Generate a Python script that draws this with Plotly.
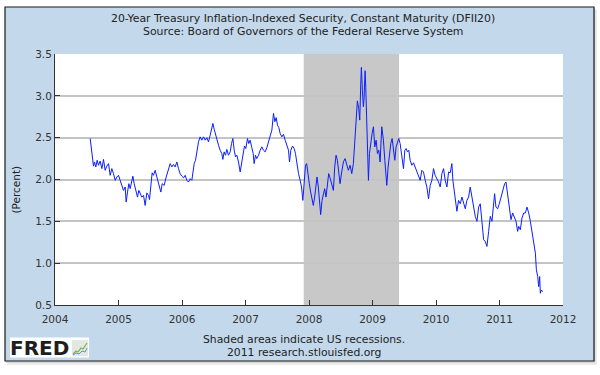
import plotly.graph_objects as go

# ---- data ----
years = [2004.554, 2004.570, 2004.585, 2004.606, 2004.622, 2004.643, 2004.664, 2004.685, 2004.711, 2004.738,
         2004.764, 2004.790, 2004.816, 2004.843, 2004.869, 2004.895, 2004.921, 2004.948, 2004.974, 2005.000,
         2005.026, 2005.052, 2005.079, 2005.105, 2005.121, 2005.142, 2005.163, 2005.184, 2005.205, 2005.226,
         2005.247, 2005.268, 2005.299, 2005.320, 2005.341, 2005.367, 2005.394, 2005.420, 2005.446, 2005.472,
         2005.488, 2005.509, 2005.530, 2005.551, 2005.577, 2005.604, 2005.630, 2005.667, 2005.688, 2005.719,
         2005.751, 2005.772, 2005.793, 2005.814, 2005.840, 2005.866, 2005.892, 2005.919, 2005.945, 2005.971,
         2005.997, 2006.024, 2006.050, 2006.076, 2006.102, 2006.129, 2006.155, 2006.171, 2006.192, 2006.213,
         2006.234, 2006.260, 2006.286, 2006.312, 2006.339, 2006.365, 2006.391, 2006.417, 2006.444, 2006.470,
         2006.486, 2006.507, 2006.528, 2006.549, 2006.575, 2006.601, 2006.627, 2006.643, 2006.664, 2006.685,
         2006.706, 2006.732, 2006.759, 2006.780, 2006.801, 2006.822, 2006.843, 2006.864, 2006.890, 2006.916,
         2006.942, 2006.963, 2006.984, 2007.005, 2007.031, 2007.052, 2007.073, 2007.100, 2007.121, 2007.136,
         2007.157, 2007.178, 2007.205, 2007.231, 2007.257, 2007.283, 2007.310, 2007.336, 2007.362, 2007.388,
         2007.415, 2007.441, 2007.462, 2007.483, 2007.504, 2007.525, 2007.546, 2007.572, 2007.598, 2007.625,
         2007.651, 2007.677, 2007.693, 2007.714, 2007.740, 2007.766, 2007.787, 2007.808, 2007.835, 2007.861,
         2007.882, 2007.903, 2007.924, 2007.945, 2007.963, 2007.984, 2008.005, 2008.026, 2008.047, 2008.068,
         2008.089, 2008.110, 2008.126, 2008.147, 2008.168, 2008.184, 2008.205, 2008.226, 2008.247, 2008.268,
         2008.289, 2008.310, 2008.331, 2008.358, 2008.384, 2008.405, 2008.426, 2008.447, 2008.468, 2008.489,
         2008.515, 2008.542, 2008.568, 2008.594, 2008.620, 2008.647, 2008.673, 2008.699, 2008.720, 2008.741,
         2008.762, 2008.783, 2008.799, 2008.815, 2008.825, 2008.841, 2008.857, 2008.868, 2008.883, 2008.894,
         2008.904, 2008.920, 2008.936, 2008.952, 2008.973, 2008.994, 2009.015, 2009.036, 2009.057, 2009.078,
         2009.099, 2009.120, 2009.146, 2009.172, 2009.194, 2009.209, 2009.225, 2009.246, 2009.267, 2009.288,
         2009.309, 2009.330, 2009.351, 2009.372, 2009.393, 2009.414, 2009.435, 2009.462, 2009.488, 2009.509,
         2009.530, 2009.551, 2009.572, 2009.593, 2009.620, 2009.646, 2009.672, 2009.698, 2009.724, 2009.751,
         2009.777, 2009.803, 2009.830, 2009.856, 2009.882, 2009.909, 2009.935, 2009.961, 2009.987, 2010.014,
         2010.040, 2010.066, 2010.093, 2010.119, 2010.145, 2010.172, 2010.198, 2010.224, 2010.250, 2010.266,
         2010.287, 2010.313, 2010.329, 2010.355, 2010.382, 2010.408, 2010.434, 2010.461, 2010.487, 2010.513,
         2010.539, 2010.566, 2010.592, 2010.618, 2010.645, 2010.671, 2010.697, 2010.723, 2010.750, 2010.776,
         2010.802, 2010.829, 2010.855, 2010.881, 2010.907, 2010.923, 2010.944, 2010.971, 2010.997, 2011.023,
         2011.055, 2011.081, 2011.102, 2011.118, 2011.134, 2011.155, 2011.181, 2011.207, 2011.233, 2011.260,
         2011.286, 2011.302, 2011.328, 2011.354, 2011.381, 2011.407, 2011.433, 2011.460, 2011.486, 2011.512,
         2011.538, 2011.565, 2011.581, 2011.602, 2011.617, 2011.633, 2011.643, 2011.659, 2011.680]

percent = [2.49, 2.39, 2.25, 2.16, 2.21, 2.15, 2.23, 2.17, 2.22, 2.13,
           2.24, 2.11, 2.16, 2.19, 2.05, 2.13, 2.07, 1.99, 2.03, 2.05,
           1.99, 1.93, 1.87, 1.91, 1.73, 1.85, 1.95, 1.89, 1.99, 2.04,
           1.95, 1.89, 1.79, 1.87, 1.83, 1.79, 1.81, 1.69, 1.84, 1.81,
           1.76, 1.95, 2.08, 2.05, 2.11, 2.03, 1.95, 1.85, 1.95, 1.93,
           2.03, 2.09, 2.13, 2.19, 2.15, 2.18, 2.15, 2.21, 2.13, 2.07,
           2.04, 2.02, 2.05, 1.99, 1.97, 2.01, 1.99, 2.08, 2.19, 2.23,
           2.35, 2.45, 2.51, 2.47, 2.51, 2.47, 2.50, 2.45, 2.53, 2.61,
           2.67, 2.60, 2.53, 2.47, 2.41, 2.35, 2.31, 2.24, 2.33, 2.29,
           2.36, 2.29, 2.33, 2.43, 2.49, 2.35, 2.27, 2.29, 2.21, 2.09,
           2.21, 2.31, 2.40, 2.37, 2.49, 2.43, 2.47, 2.38, 2.31, 2.19,
           2.29, 2.25, 2.29, 2.35, 2.39, 2.35, 2.33, 2.38, 2.45, 2.53,
           2.59, 2.79, 2.69, 2.74, 2.65, 2.62, 2.55, 2.51, 2.54, 2.47,
           2.42, 2.35, 2.21, 2.35, 2.40, 2.37, 2.31, 2.17, 2.07, 1.99,
           1.91, 1.75, 1.99, 2.17, 2.19, 2.03, 1.95, 1.85, 1.75, 1.69,
           1.79, 1.91, 2.03, 1.91, 1.71, 1.58, 1.75, 1.83, 1.89, 1.79,
           1.95, 2.07, 2.02, 1.95, 1.87, 2.15, 2.29, 2.23, 2.09, 1.95,
           2.09, 2.21, 2.25, 2.17, 2.11, 2.17, 2.07, 2.19, 2.47, 2.79,
           2.94, 2.85, 2.71, 3.14, 3.34, 3.06, 2.87, 2.98, 3.30, 3.10,
           2.79, 2.35, 1.99, 2.31, 2.47, 2.55, 2.63, 2.39, 2.47, 2.31,
           2.35, 2.21, 2.63, 2.47, 2.23, 2.07, 1.93, 2.15, 2.31, 2.43,
           2.49, 2.31, 2.23, 2.39, 2.45, 2.49, 2.43, 2.27, 2.13, 2.35,
           2.37, 2.33, 2.35, 2.23, 2.17, 2.20, 2.15, 2.09, 2.03, 1.99,
           2.11, 2.09, 1.99, 1.91, 1.77, 1.93, 1.99, 2.13, 2.05, 2.01,
           1.97, 1.91, 2.07, 2.13, 1.99, 1.91, 2.09, 2.08, 2.19, 1.99,
           1.87, 1.71, 1.62, 1.75, 1.71, 1.79, 1.71, 1.65, 1.75, 1.79,
           1.91, 1.79, 1.67, 1.56, 1.50, 1.67, 1.71, 1.44, 1.28, 1.26,
           1.20, 1.38, 1.56, 1.50, 1.67, 1.83, 1.67, 1.65, 1.71, 1.79,
           1.87, 1.95, 1.97, 1.87, 1.75, 1.65, 1.52, 1.60, 1.56, 1.50,
           1.38, 1.44, 1.40, 1.54, 1.60, 1.60, 1.67, 1.60, 1.50, 1.36,
           1.28, 1.12, 0.92, 0.84, 0.72, 0.84, 0.64, 0.68, 0.66]

x_ticks = [2004, 2005, 2006, 2007, 2008, 2009, 2010, 2011, 2012]
y_ticks = [0.5, 1.0, 1.5, 2.0, 2.5, 3.0, 3.5]
recession = [2007.917, 2009.417]   # Dec 2007 - Jun 2009

title_lines = ["20-Year Treasury Inflation-Indexed Security, Constant Maturity (DFII20)",
               "Source: Board of Governors of the Federal Reserve System"]
footer_lines = ["Shaded areas indicate US recessions.", "2011 research.stlouisfed.org"]

# ---- layout geometry (pixels) ----
W, H = 600, 375
PL, PR, PT, PB = 55, 563, 54, 305


def px(x):
    return (x - PL) / (PR - PL)


def py(y):
    return (PB - y) / (PB - PT)


FONT = "DejaVu Sans"
PANEL = "#C3D8EB"

fig = go.Figure()
fig.add_trace(go.Scatter(x=years, y=percent, mode="lines",
                         line=dict(color="#0a1eff", width=1), hoverinfo="skip"))

shapes = []
# shadow
shapes.append(dict(type="rect", xref="paper", yref="paper", layer="below",
                   x0=px(7), x1=px(597), y0=py(365), y1=py(10),
                   fillcolor="#ececec", line=dict(width=0)))
shapes.append(dict(type="rect", xref="paper", yref="paper", layer="below",
                   x0=px(6), x1=px(595.5), y0=py(363), y1=py(8.5),
                   fillcolor="#d6d6d6", line=dict(width=0)))
# blue panel
shapes.append(dict(type="rect", xref="paper", yref="paper", layer="below",
                   x0=px(5), x1=px(594), y0=py(361), y1=py(7),
                   fillcolor=PANEL, line=dict(color="#1a1a1a", width=1.2)))
# plot area
shapes.append(dict(type="rect", xref="paper", yref="paper", layer="below",
                   x0=0, x1=1, y0=0, y1=1, fillcolor="white", line=dict(width=0)))
# recession
shapes.append(dict(type="rect", xref="x", yref="paper", layer="below",
                   x0=recession[0], x1=recession[1], y0=0, y1=1,
                   fillcolor="#C8C8C8", line=dict(width=0)))
# FRED logo box
shapes.append(dict(type="rect", xref="paper", yref="paper", layer="above",
                   x0=px(10), x1=px(89), y0=py(357.5), y1=py(337.5),
                   fillcolor="white", line=dict(width=0)))
# logo mini chart icon
shapes.append(dict(type="rect", xref="paper", yref="paper", layer="above",
                   x0=px(72), x1=px(88), y0=py(356), y1=py(340),
                   fillcolor="#e4e8e4", line=dict(width=0)))
icon_pts = [(73, 354), (76, 351), (78, 352), (81, 348), (83, 349), (87, 343)]
path = "M " + " L ".join(f"{px(a)},{py(b)}" for a, b in icon_pts)
shapes.append(dict(type="path", xref="paper", yref="paper", layer="above",
                   path=path, line=dict(color="#7fb24a", width=1.2)))
icon_pts2 = [(73, 355), (76, 353), (79, 354), (82, 351), (85, 352), (87, 348)]
path2 = "M " + " L ".join(f"{px(a)},{py(b)}" for a, b in icon_pts2)
shapes.append(dict(type="path", xref="paper", yref="paper", layer="above",
                   path=path2, line=dict(color="#6a8fd0", width=1)))

annotations = []
for i, t in enumerate(title_lines):
    annotations.append(dict(text=t, xref="paper", yref="paper", x=px(303), y=py(18.5 + 12.5 * i),
                            xanchor="center", yanchor="middle", showarrow=False,
                            font=dict(family=FONT, size=10.9, color="#222")))
for i, t in enumerate(footer_lines):
    annotations.append(dict(text=t, xref="paper", yref="paper", x=px(303.5), y=py(340 + 12.5 * i),
                            xanchor="center", yanchor="middle", showarrow=False,
                            font=dict(family=FONT, size=10.8, color="#222")))
annotations.append(dict(text="(Percent)", xref="paper", yref="paper", x=px(15.5), y=py(190),
                        xanchor="center", yanchor="middle", textangle=-90, showarrow=False,
                        font=dict(family=FONT, size=10.5, color="#222")))
annotations.append(dict(text="<b>FRED</b>", xref="paper", yref="paper", x=px(39), y=py(347.5),
                        xanchor="center", yanchor="middle", showarrow=False,
                        font=dict(family=FONT, size=20, color="#1e1e1e")))

fig.update_layout(
    width=W, height=H,
    margin=dict(l=PL, r=W - PR, t=PT, b=H - PB),
    paper_bgcolor="white", plot_bgcolor="white",
    showlegend=False,
    shapes=shapes, annotations=annotations,
    xaxis=dict(range=[2004, 2012], tickvals=x_ticks, ticktext=[str(v) for v in x_ticks],
               ticks="inside", ticklen=5, tickcolor="#333", showline=True, linecolor="#333",
               linewidth=1, showgrid=False, zeroline=False, ticklabelstandoff=4,
               tickfont=dict(family=FONT, size=10.5, color="#333")),
    yaxis=dict(range=[0.5, 3.5], tickvals=y_ticks, tickformat=".1f",
               ticks="inside", ticklen=5, tickcolor="#333", showline=True, linecolor="#333",
               linewidth=1, showgrid=True, gridcolor="#c4c4c4", gridwidth=1.5, zeroline=False,
               tickfont=dict(family=FONT, size=10.5, color="#333")),
)

fig.write_html("out.html", config={"displayModeBar": False},
               post_script="document.body.style.margin='0';document.body.style.padding='0';")
